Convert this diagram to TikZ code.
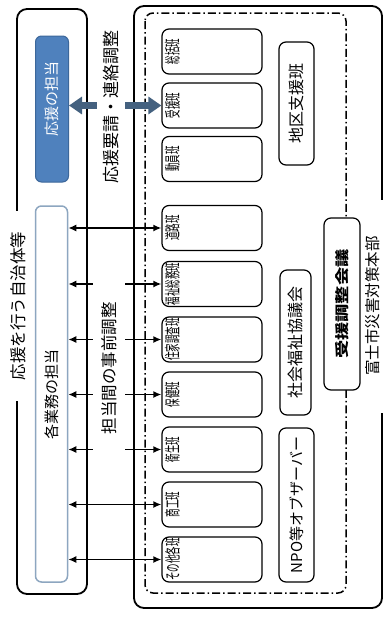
\documentclass[tikz,border=0pt]{standalone}
\usepackage{fontspec}
\setmainfont{Noto Sans CJK JP}
\usetikzlibrary{arrows.meta}
\definecolor{boxblue}{HTML}{4F81BD}
\definecolor{boxblueedge}{HTML}{3C679A}
\definecolor{arrowblue}{HTML}{44617F}
\definecolor{paleedge}{HTML}{8DA6C0}
\newcommand{\bureaulabel}[1]{\makebox[100pt][l]{\hspace{3pt}\rotatebox{90}{\scalebox{0.53}[1]{#1}}}}
\newcommand{\vtext}[1]{\rotatebox{90}{#1}}
\tikzset{
  bureau/.style={draw, line width=1.2pt, rounded corners=7pt, minimum width=100pt,
    minimum height=45pt, inner sep=0pt, fill=white, font=\fontsize{16pt}{16pt}\selectfont},
  sidebox/.style={draw, line width=1.2pt, rounded corners=7pt, inner sep=0pt, fill=white},
  outerbox/.style={draw, line width=1.8pt, rounded corners=10pt},
  lab/.style={fill=white, inner sep=0pt},
  biarrow/.style={{Latex[length=8pt,width=7pt]}-{Latex[length=8pt,width=7pt]}, line width=1.6pt},
  bluearrow/.style={{Triangle[length=13pt,width=17pt]}-{Triangle[length=13pt,width=17pt]},
    line width=7pt, draw=arrowblue, color=arrowblue}
}
\begin{document}
\begin{tikzpicture}[x=1pt,y=-1pt]
\useasboundingbox (0,0) rectangle (384,619);
\fill[white] (0,0) rectangle (384,619);
% outer frames
\draw[outerbox] (17,9) rectangle (87,594);
\draw[outerbox] (134,6) rectangle (382,608);
\draw[line width=1.5pt, dash pattern=on 8pt off 3pt on 1.5pt off 3pt, rounded corners=8pt] (145,13) rectangle (346,593);
% left column
\node[draw=boxblueedge, fill=boxblue, line width=1pt, rounded corners=6pt, minimum width=33pt, minimum height=146pt,
  inner sep=0pt, text=white, font=\fontsize{15pt}{15pt}\selectfont] (ouen) at (52,109)
  {\rotatebox{90}{\makebox[146pt][c]{\hspace{20pt}応援の担当}}};
\node[draw=paleedge, fill=white, line width=1.5pt, rounded corners=6pt, minimum width=32pt, minimum height=376pt,
  inner sep=0pt, font=\fontsize{15pt}{15pt}\selectfont] (gyomu) at (51.5,394) {\vtext{各業務の担当}};
% bureaus
\node[bureau] (sokatsu) at (212,51.5) {\bureaulabel{総括班}};
\node[bureau] (jyuen) at (212,105.5) {\bureaulabel{受援班}};
\node[bureau] (doin) at (212,159) {\bureaulabel{動員班}};
\node[bureau] (doro) at (212,228) {\bureaulabel{道路班}};
\node[bureau] (fukushi) at (212,284) {\bureaulabel{福祉総務班}};
\node[bureau] (jyuka) at (212,339.5) {\bureaulabel{住家調査班}};
\node[bureau] (hoken) at (212,394.5) {\bureaulabel{保健班}};
\node[bureau] (eisei) at (212,449.5) {\bureaulabel{衛生班}};
\node[bureau] (shoko) at (212,504.5) {\bureaulabel{商工班}};
\node[bureau] (sonota) at (212,559.5) {\bureaulabel{その他各班}};
% right column
\node[sidebox, minimum width=35pt, minimum height=123pt, font=\fontsize{16pt}{16pt}\selectfont] (chiku) at (296.5,103.5) {\vtext{地区支援班}};
\node[sidebox, minimum width=31pt, minimum height=145pt, font=\fontsize{16pt}{16pt}\selectfont] (shakyo) at (295.5,342.5) {\vtext{社会福祉協議会}};
\node[sidebox, minimum width=35pt, minimum height=154pt, font=\fontsize{15pt}{15pt}\selectfont] (npo) at (296.5,505) {\vtext{NPO等オブザーバー}};
\node[sidebox, minimum width=36pt, minimum height=172pt, font=\fontsize{14pt}{14pt}\selectfont\bfseries] (chosei) at (342,304) {\vtext{\scalebox{1.3}[1]{受援調整会議}}};
% connectors
\draw[bluearrow] (ouen.east |- jyuen.west) -- (jyuen.west);
\foreach \b in {doro,fukushi,jyuka,hoken,eisei,shoko,sonota}{
  \draw[biarrow] (gyomu.east |- \b.west) -- (\b.west);
}
% connector labels
\node[lab, minimum width=28pt, minimum height=170pt, font=\fontsize{17pt}{17pt}\selectfont] (yosei) at (111,107) {\vtext{応援要請・連絡調整}};
\node[lab, minimum width=32pt, minimum height=190pt, font=\fontsize{16.5pt}{16.5pt}\selectfont] (jizen) at (109,368) {\vtext{担当間の事前調整}};
% frame titles
\node[lab, minimum width=20pt, minimum height=190pt, font=\fontsize{16.5pt}{16.5pt}\selectfont] (jichitai) at (18,306) {\vtext{応援を行う自治体等}};
\node[lab, minimum width=22pt, minimum height=213pt, font=\fontsize{15.5pt}{15.5pt}\selectfont] (honbu) at (373,306) {\vtext{富士市災害対策本部}};
\end{tikzpicture}
\end{document}
